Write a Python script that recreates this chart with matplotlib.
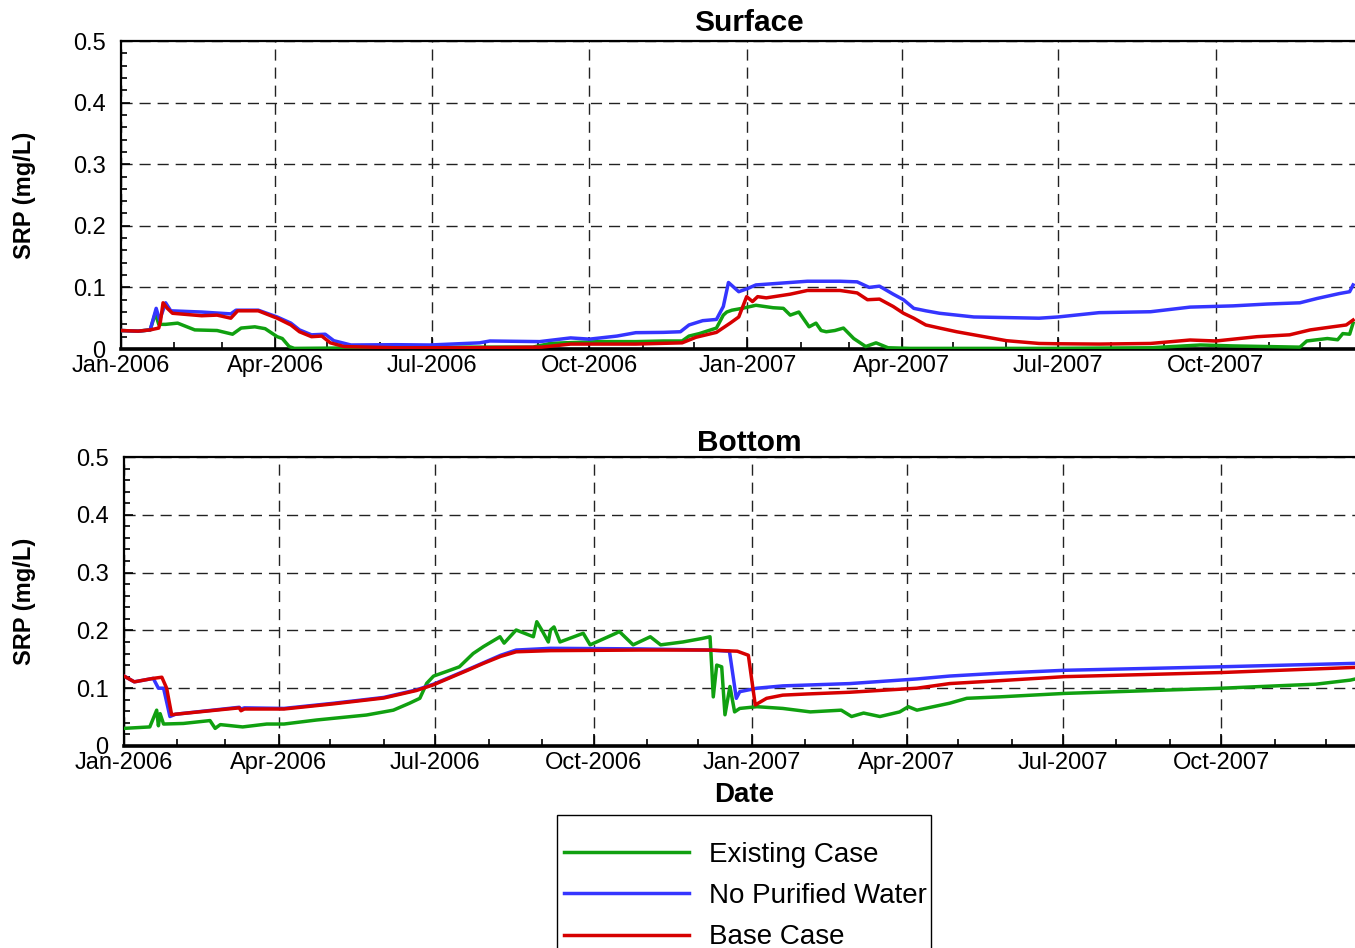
import datetime as dt
import numpy as np
import matplotlib
matplotlib.use("Agg")
import matplotlib.pyplot as plt
import matplotlib.dates as mdates
from matplotlib.patches import Rectangle
from matplotlib.ticker import MultipleLocator, FixedLocator, FixedFormatter

plt.rcParams["font.family"] = ["Liberation Sans", "DejaVu Sans"]

START = dt.datetime(2006, 1, 1)

series_names = ["Existing Case", "No Purified Water", "Base Case"]
series_colors = ["#10a010", "#3535ff", "#d60000"]

# ---- Surface SRP (mg/L), day offsets from 1 Jan 2006 ----
surf_exist_day = [0, 10, 17, 20, 22, 26, 33, 43, 56, 65, 70, 78, 84, 91, 94, 98, 101,
                  150, 200, 240, 250, 258, 279, 300, 316, 327, 331, 337, 347, 351, 353,
                  356, 362, 370, 380, 386, 390, 395, 401, 405, 408, 411, 416, 421, 427,
                  434, 440, 447, 460, 540, 600, 629, 648, 687, 691, 697, 703, 709, 712,
                  716, 718]
surf_exist_val = [0.030, 0.029, 0.031, 0.058, 0.040, 0.040, 0.042, 0.031, 0.030, 0.024,
                  0.034, 0.036, 0.033, 0.020, 0.017, 0.004, 0.001,
                  0.002, 0.003, 0.003, 0.009, 0.010, 0.012, 0.012, 0.013, 0.013, 0.021,
                  0.025, 0.034, 0.055, 0.060,
                  0.063, 0.066, 0.071, 0.067, 0.066, 0.055, 0.060, 0.036, 0.042, 0.030,
                  0.028, 0.030, 0.034, 0.017,
                  0.004, 0.010, 0.002, 0.001, 0.001, 0.002, 0.0065, 0.005, 0.003, 0.013,
                  0.015, 0.017, 0.015, 0.025, 0.024, 0.042]

surf_nopw_day = [0, 10, 17, 20.5, 22.5, 26, 29, 47, 64, 67, 80, 91, 99, 104, 111, 119,
                 124, 134, 160, 180, 209, 215, 244, 262, 273, 289, 300, 316, 326, 331,
                 339, 347, 351, 354, 360, 365, 370, 380, 390, 400, 419, 429, 436, 442,
                 450, 456, 462, 469, 477, 497, 516, 535, 546, 570, 600, 623, 648, 668,
                 687, 697, 710, 716, 718]
surf_nopw_val = [0.030, 0.029, 0.031, 0.066, 0.047, 0.075, 0.062, 0.060, 0.057, 0.063,
                 0.063, 0.052, 0.042, 0.031, 0.023, 0.024,
                 0.0135, 0.0065, 0.007, 0.0065, 0.010, 0.013, 0.012, 0.018, 0.016, 0.021,
                 0.0265, 0.027, 0.028, 0.039,
                 0.046, 0.048, 0.069, 0.108, 0.093, 0.098, 0.104, 0.106, 0.108, 0.110,
                 0.110, 0.109, 0.100, 0.102,
                 0.089, 0.080, 0.066, 0.062, 0.058, 0.052, 0.051, 0.050, 0.052, 0.059,
                 0.0605, 0.068, 0.070, 0.073,
                 0.075, 0.082, 0.090, 0.093, 0.104]

surf_base_day = [0, 10, 17, 22, 23, 24.5, 27, 30, 47, 56, 64, 68, 80, 91, 99, 104, 111,
                 117, 122, 130, 160, 200, 245, 262, 300, 327, 335, 347, 355, 360, 364.6,
                 368, 371, 376, 390, 400, 419, 429, 435, 442, 450, 456, 462, 469, 477,
                 487, 497, 516, 535, 546, 570, 600, 623, 638, 662, 681, 693, 706, 714,
                 718]
surf_base_val = [0.030, 0.029, 0.031, 0.034, 0.045, 0.075, 0.066, 0.058, 0.054, 0.055,
                 0.050, 0.062, 0.062, 0.050, 0.039, 0.028, 0.020,
                 0.021, 0.010, 0.004, 0.002, 0.002, 0.003, 0.008, 0.008, 0.010, 0.019,
                 0.027, 0.042, 0.052, 0.085,
                 0.077, 0.085, 0.083, 0.089, 0.095, 0.095, 0.091, 0.080, 0.081, 0.069,
                 0.058, 0.050, 0.039, 0.034,
                 0.028, 0.023, 0.0135, 0.009, 0.0085, 0.008, 0.009, 0.0146, 0.013,
                 0.020, 0.023, 0.031, 0.036, 0.039,
                 0.047]

# ---- Bottom SRP (mg/L) ----
bot_exist_day = [0, 15, 19, 20, 21, 23, 34.5, 50, 53, 56, 69, 83, 93, 112, 141, 156.6,
                 166, 172, 176, 180, 187.6, 195, 203, 209, 218.6, 221, 228, 238, 240,
                 243, 246.7, 248, 250, 253.5, 267, 271, 286, 288, 296, 306, 312, 325,
                 336, 340.7, 341.7, 342.6, 344.6, 347.5, 349.4, 352.3, 355, 358, 368,
                 383, 399, 417, 423, 430, 439.5, 451, 456, 461, 480, 490, 509, 547,
                 637, 693, 713, 716]
bot_exist_val = [0.0305, 0.033, 0.062, 0.035, 0.056, 0.038, 0.039, 0.044, 0.0305, 0.037,
                 0.033, 0.038, 0.038, 0.045, 0.0536, 0.062,
                 0.074, 0.0825, 0.1085, 0.121, 0.129, 0.137, 0.160, 0.172, 0.189, 0.178,
                 0.2007, 0.189, 0.215,
                 0.200, 0.180, 0.2007, 0.206, 0.180, 0.195, 0.175, 0.195, 0.198, 0.175,
                 0.189, 0.175, 0.180,
                 0.186, 0.189, 0.137, 0.085, 0.140, 0.137, 0.054, 0.103, 0.059, 0.065,
                 0.068,
                 0.065, 0.059, 0.062, 0.051, 0.057, 0.051, 0.059, 0.068, 0.062, 0.074,
                 0.0825, 0.085, 0.091,
                 0.0998, 0.107, 0.114, 0.116]

bot_nopw_day = [0, 6, 17, 20, 23, 26.7, 30, 67, 68, 70, 93, 122, 151, 170, 180, 189.5,
                199, 209, 219, 228, 248, 300, 340, 352, 356, 358, 368, 383, 422, 461,
                480, 509, 547, 637, 716]
bot_nopw_val = [0.121, 0.111, 0.117, 0.100, 0.100, 0.051, 0.055, 0.067, 0.064, 0.066,
                0.065, 0.074, 0.084, 0.097, 0.107, 0.119,
                0.131, 0.144, 0.157, 0.166, 0.169, 0.168, 0.166, 0.164, 0.0825, 0.094,
                0.100, 0.104, 0.108, 0.116,
                0.121, 0.126, 0.131, 0.137, 0.143]

bot_base_day = [0, 6, 17, 22, 24.8, 27.7, 30, 67, 68, 70, 93, 122, 151, 170, 180, 189.5,
                199, 209, 219, 228, 248, 300, 340, 356.6, 363, 365, 367, 373.6, 383,
                397, 422, 461, 480, 509, 547, 637, 716]
bot_base_val = [0.121, 0.111, 0.117, 0.119, 0.100, 0.054, 0.055, 0.066, 0.061, 0.064,
                0.064, 0.073, 0.083, 0.096, 0.106, 0.118,
                0.130, 0.143, 0.155, 0.163, 0.165, 0.166, 0.166, 0.164, 0.157, 0.114,
                0.071, 0.0825, 0.088,
                0.090, 0.093, 0.100, 0.108, 0.113, 0.120, 0.127, 0.136]

y_ticks = [0.0, 0.1, 0.2, 0.3, 0.4, 0.5]
y_tick_labels = ["0", "0.1", "0.2", "0.3", "0.4", "0.5"]

W, H = 1355, 948
fig = plt.figure(figsize=(W / 100, H / 100), dpi=100)

t0 = mdates.date2num(START)


def px_axes(left, bottom, top, px_per_day):
    """Axes running from `left` to the right edge of the figure."""
    ax = fig.add_axes([left / W, 1 - bottom / H, (W - left) / W, (bottom - top) / H])
    ax.set_xlim(t0, t0 + (W - left) / px_per_day)
    return ax


ax_s = px_axes(121, 349, 41, 1.716)
ax_b = px_axes(124, 746, 457, 1.720)

panels = [
    (ax_s, 121, "Surface", 7, [(surf_exist_day, surf_exist_val),
                               (surf_nopw_day, surf_nopw_val),
                               (surf_base_day, surf_base_val)]),
    (ax_b, 124, "Bottom", 2, [(bot_exist_day, bot_exist_val),
                              (bot_nopw_day, bot_nopw_val),
                              (bot_base_day, bot_base_val)]),
]

lines = []
for ax, left, title, tpad, data in panels:
    for (days, vals), color, name in zip(data, series_colors, series_names):
        x = t0 + np.asarray(days, dtype=float)
        ln, = ax.plot(x, vals, color=color, lw=2.5, label=name,
                      solid_joinstyle="round", zorder=3)
        if ax is ax_s:
            lines.append(ln)

    ax.set_ylim(0, 0.5)
    ax.xaxis.set_major_locator(mdates.MonthLocator(bymonth=[1, 4, 7, 10]))
    ax.xaxis.set_minor_locator(mdates.MonthLocator())
    ax.xaxis.set_major_formatter(mdates.DateFormatter("%b-%Y"))
    ax.yaxis.set_major_locator(FixedLocator(y_ticks))
    ax.yaxis.set_major_formatter(FixedFormatter(y_tick_labels))
    ax.yaxis.set_minor_locator(MultipleLocator(0.02))

    ax.tick_params(axis="both", which="both", direction="in", colors="black",
                   labelsize=17, width=1.2)
    ax.tick_params(axis="x", which="major", length=9, pad=4)
    ax.tick_params(axis="x", which="minor", length=5)
    ax.tick_params(axis="y", which="major", length=6.5, pad=11)
    ax.tick_params(axis="y", which="minor", length=4.3)

    ax.grid(True, which="major", color="#222222", lw=1.0, ls=(0, (8, 5)), zorder=1)

    ax.spines["right"].set_visible(False)
    ax.spines["left"].set_linewidth(1.6)
    ax.spines["top"].set_linewidth(1.6)
    ax.spines["bottom"].set_linewidth(2.6)

    ax.set_title(title, fontsize=21.5, fontweight="bold", pad=tpad)
    ax.title.set_x((749 - left) / (W - left))
    ax.set_ylabel("SRP (mg/L)", fontsize=17, fontweight="bold")
    ax.yaxis.label.set_va("center")
    ax.yaxis.set_label_coords((24 - left) / (W - left), 0.5)

ax_b.set_xlabel("Date", fontsize=20, fontweight="bold", labelpad=6)
ax_b.xaxis.label.set_x((744 - 124) / (W - 124))

leg = fig.legend(handles=lines, loc="center left",
                 bbox_to_anchor=(550 / W, 1 - 896 / H), frameon=False,
                 fontsize=20, handlelength=4.5, handletextpad=0.72,
                 labelspacing=0.55, borderpad=0)

fig.patches.append(Rectangle((557 / W, 1 - 960 / H), (931 - 557) / W, (960 - 815) / H,
                             transform=fig.transFigure, fill=False,
                             edgecolor="black", lw=1.0))

fig.savefig("out.png", dpi=100)
